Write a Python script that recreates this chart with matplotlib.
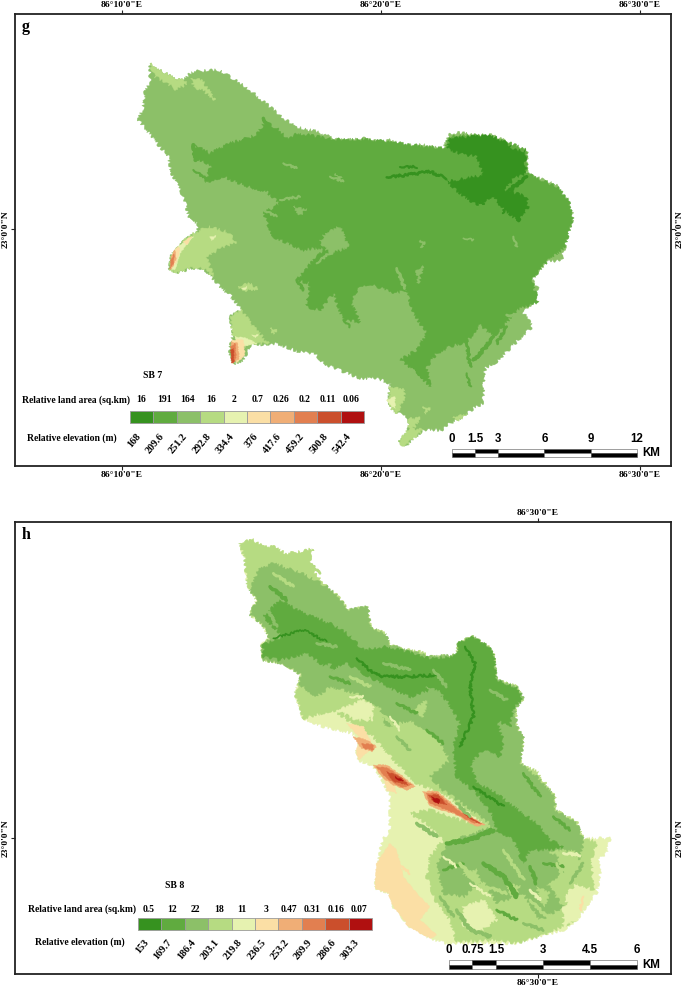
import matplotlib
matplotlib.use("Agg")
import matplotlib.pyplot as plt
from matplotlib.patches import Polygon, Rectangle
from matplotlib.transforms import Affine2D

W, H = 685, 989
SERIF = "Liberation Serif"
SANS = "Liberation Sans"

CLASS_COLORS = ["#36921F", "#60AB3F", "#8CC068", "#B6DB82", "#E6F2B0",
                "#FBDFA5", "#F0AE76", "#E27F50", "#CB4F2C", "#B01010"]

# ---- legend data
G_AREA = ["16", "191", "164", "16", "2", "0.7", "0.26", "0.2", "0.11", "0.06"]
G_ELEV = ["168", "209.6", "251.2", "292.8", "334.4", "376", "417.6", "459.2", "500.8", "542.4"]
H_AREA = ["0.5", "12", "22", "18", "11", "3", "0.47", "0.31", "0.16", "0.07"]
H_ELEV = ["153", "169.7", "186.4", "203.1", "219.8", "236.5", "253.2", "269.9", "286.6", "303.3"]
G_KM = [0, 1.5, 3, 6, 9, 12]
H_KM = [0, 0.75, 1.5, 3, 4.5, 6]
G_KM_LABELS = ["0", "1.5", "3", "6", "9", "12"]
H_KM_LABELS = ["0", "0.75", "1.5", "3", "4.5", "6"]

# ---- zone outlines (traced units: 3 x reference pixel)
G_OUTLINE = [(60,40),(75,55),(105,68),(130,85),(160,92),(185,65),(225,62),(265,60),(300,80),(330,100),(365,125),(395,150),(425,175),(460,205),(500,230),(560,245),(610,265),(650,270),(700,265),(750,275),(780,270),(830,285),(880,285),(940,295),(955,255),(985,248),(1040,255),(1085,255),(1130,275),(1150,300),(1190,300),(1190,370),(1240,390),(1280,405),(1280,435),(1315,450),(1330,505),(1315,545),(1305,590),(1295,630),(1250,635),(1225,665),(1205,690),(1225,715),(1205,725),(1225,755),(1175,780),(1195,810),(1208,830),(1175,860),(1130,905),(1100,935),(1065,955),(1060,1000),(1060,1060),(1030,1075),(1000,1100),(960,1120),(935,1140),(880,1140),(850,1165),(825,1190),(805,1175),(835,1140),(838,1105),(805,1090),(775,1065),(780,1000),(740,985),(690,985),(640,965),(580,940),(555,910),(505,905),(440,880),(405,885),(365,880),(340,930),(310,942),(298,905),(305,870),(310,850),(300,800),(335,780),(300,735),(270,710),(245,680),(220,655),(180,655),(150,668),(118,660),(125,615),(165,570),(200,545),(205,520),(180,510),(160,440),(125,370),(115,320),(85,285),(50,240),(25,210),(40,170),(45,125),(60,90)]

G_ZONES = [
 (3, [(60,40),(75,55),(105,68),(130,85),(160,92),(170,100),(140,120),(105,95),(75,80)]),
 (3, [(185,85),(215,90),(255,150),(225,125),(190,110)]),
 (1, [(195,285),(240,310),(300,280),(380,255),(405,215),(440,235),(470,265),(505,250),(610,268),(700,268),(780,275),(880,290),(945,295),(955,260),(1040,255),(1130,275),(1190,300),(1190,370),(1280,410),(1315,450),(1328,505),(1305,590),(1250,635),(1205,690),(1225,755),(1160,780),(1120,830),(1090,860),(1050,825),(1010,875),(960,890),(920,910),(890,950),(900,1010),(860,965),(810,930),(860,900),(890,850),(850,790),(830,720),(790,730),(720,700),(680,720),(665,760),(690,815),(640,810),(610,730),(570,780),(530,770),(540,700),(500,690),(560,620),(590,590),(520,600),(430,560),(400,490),(450,460),(410,425),(340,405),(280,380),(225,395),(245,345),(200,330)]),
 (2, [(585,550),(630,530),(655,590),(600,612),(570,575)]),
 (2, [(490,470),(530,480),(510,495)]),
 (2, [(615,370),(635,385),(625,393)]),
 (2, [(860,660),(880,650),(865,700)]),
 (2, [(870,570),(885,575),(875,595)]),
 (0, [(958,265),(1040,258),(1085,258),(1130,278),(1150,300),(1186,303),(1186,370),(1150,385),(1125,420),(1190,440),(1195,470),(1165,515),(1115,470),(1090,440),(1040,465),(990,430),(950,395),(1010,385),(1060,375),(1040,320),(990,310),(952,295)]),
 (3, [(118,660),(125,615),(165,570),(200,545),(235,530),(290,545),(320,575),(260,600),(230,625),(250,680),(220,655),(180,655),(150,668)]),
 (3, [(300,800),(335,780),(370,830),(415,880),(365,880),(340,890),(310,860)]),
 (3, [(780,1010),(825,1020),(820,1050),(800,1090),(775,1065)]),
 (3, [(805,1175),(835,1140),(838,1105),(870,1105),(850,1135),(880,1140),(850,1165),(825,1190)]),
 (3, [(325,710),(355,700),(385,715),(350,722)]),
 (3, [(420,835),(440,840),(430,852)]),
 (3, [(880,1070),(900,1075),(885,1090)]),
 (3, [(970,1100),(1010,1095),(985,1110)]),
 (4, [(240,560),(258,558),(245,572)]),
 (4, [(335,715),(350,710),(345,720)]),
 (4, [(365,855),(385,855),(375,862)]),
 (4, [(135,600),(170,570),(190,560),(150,610),(135,660),(120,655)]),
 (4, [(315,860),(350,865),(380,880),(345,888),(325,890)]),
 (4, [(770,1050),(795,1040),(795,1075),(780,1065)]),
 (5, [(128,610),(145,590),(150,600),(138,640),(125,655)]),
 (5, [(305,870),(340,870),(345,915),(320,940)]),
 (5, [(160,575),(185,560),(170,585)]),
 (6, [(123,620),(135,600),(138,625),(125,658)]),
 (6, [(303,875),(322,880),(328,925),(308,940)]),
 (7, [(122,630),(133,612),(130,640),(120,658)]),
 (7, [(302,890),(315,880),(318,925),(306,940)]),
 (8, [(302,900),(310,895),(312,935),(305,940)]),
]
# branching fine-scale patches: class, width, path
G_TENDRILS = [
 (1,3,[(190,285),(198,330)]),(1,2.5,[(400,205),(425,250)]),(1,3,[(345,270),(315,310),(290,370)]),
 (1,2,[(1010,875),(1020,950)]),(1,2.5,[(1090,860),(1060,900),(1030,930)]),(1,2.5,[(840,930),(880,985)]),
 (1,2,[(1130,830),(1100,880)]),(1,1.5,[(640,810),(660,830)]),(1,2,[(500,690),(520,720)]),(1,1.5,[(1010,970),(1020,1010)]),
 (1,1.5,[(190,360),(240,395)]),(1,1.5,[(440,300),(470,380)]),(1,2,[(820,710),(830,670)]),
 (0,1.8,[(770,382),(830,375),(900,365),(950,385)]),(0,1.5,[(810,350),(860,350)]),
 (0,2.5,[(1160,470),(1165,512)]),(0,2.5,[(1190,380),(1140,420)]),(0,2,[(960,270),(1000,300)]),
 (0,1.5,[(1000,420),(1060,465)]),(0,1.5,[(1130,455),(1120,490)]),
 (2,2,[(800,655),(825,715)]),(2,2,[(1130,795),(1165,800)]),(2,1.5,[(450,450),(510,440)]),
 (2,1.5,[(560,640),(610,600)]),(2,1.5,[(400,480),(440,500)]),(2,1.5,[(460,340),(500,355)]),
 (2,1.5,[(600,380),(640,395)]),(2,1.2,[(1000,565),(1030,570)]),(2,1.5,[(1150,560),(1160,590)]),
]

H_OUTLINE = [(30,40),(65,28),(100,50),(130,50),(165,70),(215,65),(250,55),(240,85),(255,130),(290,170),(320,195),(355,240),(415,230),(420,290),(465,310),(480,345),(530,360),(570,365),(600,380),(680,375),(685,340),(725,318),(770,345),(790,370),(800,450),(860,470),(880,505),(855,535),(860,590),(880,625),(870,700),(920,725),(975,800),(975,840),(1040,875),(1060,925),(1140,925),(1130,970),(1105,990),(1110,1030),(1100,1090),(1075,1120),(1040,1170),(1000,1200),(940,1215),(860,1240),(650,1240),(600,1225),(540,1190),(490,1130),(475,1090),(435,1075),(445,1000),(455,935),(480,900),(480,800),(455,745),(430,710),(385,690),(378,660),(395,630),(365,610),(280,590),(220,565),(195,490),(215,435),(160,400),(100,390),(95,345),(120,325),(95,280),(60,255),(80,210),(50,160),(45,90)]

H_ZONES = [
 (3, [(30,40),(65,28),(100,50),(130,50),(165,70),(215,65),(250,55),(240,85),(255,130),(290,170),(320,195),(355,240),(415,230),(420,290),(465,310),(480,345),(530,360),(570,365),(600,380),(680,375),(685,340),(725,318),(770,345),(790,370),(800,450),(860,470),(880,505),(855,535),(860,590),(880,625),(870,700),(920,725),(975,800),(975,840),(1040,875),(1060,925),(1100,935),(1085,985),(1090,1080),(1040,1060),(1000,1100),(1040,1170),(940,1215),(860,1240),(800,1230),(680,1235),(660,1170),(620,1120),(590,1040),(600,980),(640,930),(590,880),(540,850),(600,840),(720,880),(770,885),(640,790),(560,760),(500,700),(430,620),(380,590),(310,540),(220,565),(195,490),(215,435),(160,400),(100,390),(95,345),(120,325),(95,280),(60,255),(80,210),(50,160),(45,90)]),
 (2, [(60,180),(85,120),(130,100),(215,130),(290,170),(320,195),(355,240),(415,230),(420,290),(465,310),(480,345),(530,360),(600,380),(680,375),(685,340),(725,318),(770,345),(790,370),(800,450),(860,470),(880,505),(855,535),(860,590),(880,625),(870,700),(920,740),(975,800),(975,840),(1040,880),(1060,930),(1050,990),(1030,960),(980,975),(1000,1030),(950,1060),(1000,1130),(930,1170),(880,1090),(800,1120),(760,1050),(700,1100),(640,1090),(620,1000),(650,950),(700,920),(790,890),(740,850),(640,780),(600,740),(660,690),(620,620),(540,570),(470,590),(450,530),(380,490),(300,470),(260,500),(205,460),(215,435),(160,400),(100,390),(95,345),(120,325),(95,280),(60,255),(80,210)]),
 (1, [(150,210),(220,250),(300,280),(350,310),(400,360),(470,350),(530,365),(600,385),(680,378),(685,340),(725,320),(770,345),(790,370),(800,450),(860,475),(878,505),(850,535),(840,590),(800,570),(820,630),(810,680),(760,660),(720,700),(740,760),(800,790),(850,830),(920,880),(960,930),(1000,950),(960,960),(900,960),(880,1000),(850,930),(800,900),(790,860),(740,790),(680,740),(670,650),(690,580),(650,510),(600,480),(540,500),(470,470),(400,430),(350,400),(300,420),(230,370),(150,390),(100,380),(100,345),(160,320),(100,260)]),
 (2, [(730,690),(790,670),(810,700),(770,730)]),
 (2, [(540,560),(590,540),(570,590)]),
 (2, [(270,420),(300,400),(310,440)]),
 (2, [(590,470),(640,490),(610,530)]),
 (3, [(920,1070),(960,1090),(940,1130)]),
 (3, [(700,1030),(740,1020),(750,1060)]),
 (3, [(830,1060),(870,1070),(850,1110)]),
 (3, [(960,965),(1010,960),(990,980)]),
 (3, [(550,540),(590,510),(580,560)]),
 (4, [(320,540),(350,530),(400,510),(430,530),(420,570),(380,570)]),
 (4, [(700,1130),(760,1110),(800,1170),(740,1210),(700,1190)]),
 (4, [(1000,1130),(1060,1090),(1075,1120),(1040,1170),(1000,1190)]),
 (5, [(440,1000),(480,940),(500,960),(520,1040),(560,1090),(600,1130),(570,1170),(620,1215),(600,1225),(540,1190),(490,1130),(475,1090),(435,1075)]),
 (5, [(350,580),(400,590),(430,650),(385,690),(378,660),(395,630)]),
 (5, [(460,740),(490,760),(500,790),(470,780)]),
 (6, [(370,620),(410,630),(440,650),(425,665),(395,655)]),
 (6, [(430,705),(470,705),(520,740),(555,770),(530,780),(490,765),(455,740)]),
 (6, [(578,785),(620,783),(690,840),(765,885),(735,888),(680,855),(600,828)]),
 (7, [(395,640),(430,645),(430,660),(400,655)]),
 (7, [(440,710),(475,715),(545,765),(515,772),(470,745)]),
 (7, [(590,790),(620,790),(690,845),(755,882),(730,878),(670,848),(600,820)]),
 (8, [(470,725),(510,740),(535,765),(490,755)]),
 (8, [(595,795),(625,795),(650,825),(610,815)]),
 (8, [(700,850),(750,880),(725,870)]),
 (9, [(495,740),(520,752),(505,752)]),
 (9, [(605,800),(630,810),(625,822),(610,812)]),
]
H_TENDRILS = [
 # darkest streaks
 (0,1.6,[(380,385),(430,430),(460,440),(540,440),(620,435)]),
 (0,1.6,[(705,350),(735,400),(720,460),(730,560),(690,650)]),
 (0,1.6,[(730,770),(820,830)]),
 (0,1.2,[(130,325),(220,300),(290,335)]),
 # mid-green branches in the south and west
 (1,3,[(650,940),(720,930),(790,900)]),(1,3,[(760,1000),(820,1040),(860,1100)]),
 (1,2.5,[(900,1010),(920,1060)]),(1,2,[(640,1020),(700,1000)]),(1,2.5,[(120,170),(170,210)]),
 (1,2,[(800,1140),(860,1170)]),(1,2,[(940,1000),(1000,1010)]),(1,2,[(590,600),(640,640)]),
 (1,2,[(500,520),(560,550)]),(1,2,[(300,440),(360,460)]),(1,2,[(880,730),(930,800)]),
 (1,2,[(970,860),(1020,900)]),
 # class 3 mottling
 (2,2,[(90,200),(140,290)]),(2,2,[(260,340),(320,350)]),(2,2,[(460,400),(540,420)]),
 (2,2,[(610,420),(650,470)]),(2,2,[(780,480),(830,510)]),(2,2,[(720,860),(680,820)]),
 (2,2.5,[(560,880),(620,920)]),(2,2.5,[(680,1140),(720,1200),(780,1220)]),(2,2,[(880,1180),(940,1200)]),
 (2,2,[(1020,1060),(1060,1000)]),(2,2,[(630,1100),(670,1160)]),(2,2,[(500,620),(540,660)]),
 # class 4 mottling
 (3,2,[(130,130),(190,170)]),(3,2,[(360,440),(420,470)]),(3,2,[(450,550),(500,590)]),
 (3,2,[(580,660),(640,700)]),(3,2.5,[(690,1000),(740,1060)]),(3,2,[(820,960),(880,1050)]),
 (3,2,[(900,1110),(960,1170)]),(3,2,[(770,1070),(830,1090)]),(3,2,[(980,1000),(1010,1060)]),
 (3,1.5,[(560,860),(600,860)]),(3,2,[(270,130),(240,100)]),
 # class 5 mottling
 (4,1.5,[(410,520),(430,570)]),(4,1.5,[(360,500),(400,500)]),(4,1.5,[(480,560),(510,600)]),
 (4,1.5,[(720,1060),(780,1100)]),(4,2,[(900,1080),(930,1110)]),(4,2,[(1000,970),(1050,975)]),
 (4,1.5,[(640,980),(680,1010)]),
 # class 6 mottling
 (5,2,[(510,1080),(560,1130)]),(5,2,[(530,1180),(600,1220)]),(5,1.5,[(1060,1100),(1050,1140)]),
 (5,1.5,[(500,1000),(540,1030)]),
]


fig = plt.figure(figsize=(W/100, H/100), dpi=100, facecolor="white")
PX = Affine2D().scale(1/W, -1/H).translate(0, 1) + fig.transFigure
SK_BIG = (1.6, 4, 8)
SK_SMALL = (0.5, 4, 10)


def panel(box, x0, y0, scale, lon0, zoom_off, ticks_lon, labels_lon, ticks_lat, labels_lat):
    l, t, r, b = box
    ax = fig.add_axes([l/W, 1-b/H, (r-l)/W, (b-t)/H])
    lon = lambda px: lon0 + (px-x0)/scale
    lat = lambda py: (y0-py)/scale
    ax.set_xlim(lon(l), lon(r))
    ax.set_ylim(lat(b), lat(t))
    ax.set_xticks(ticks_lon, labels_lon)
    ax.set_yticks(ticks_lat, labels_lat)
    ax.tick_params(axis="both", top=True, right=True, labeltop=True, labelright=True,
                   length=3, width=0.8, pad=0.5, labelsize=6.8, color="#222222")
    plt.setp(ax.get_xticklabels()+ax.get_yticklabels(), family=SERIF, fontweight="bold")
    plt.setp(ax.yaxis.get_ticklabels(), rotation=90, va="center")
    for s in ax.spines.values():
        s.set_linewidth(1.3)
        s.set_color("#222222")
    ox, oy = zoom_off
    conv = lambda pts: [(lon(ox+a/3), lat(oy+c/3)) for a, c in pts]
    return ax, conv


def draw_zone(ax, pts, idx, sk=SK_BIG):
    p = Polygon(pts, closed=True, facecolor=CLASS_COLORS[idx], edgecolor=CLASS_COLORS[idx], linewidth=0.3)
    p.set_sketch_params(*sk)
    ax.add_patch(p)


def draw_tendrils(ax, conv, items):
    for idx, lw, path in items:
        xs, ys = zip(*conv(path))
        l, = ax.plot(xs, ys, color=CLASS_COLORS[idx], lw=lw, solid_capstyle="round", solid_joinstyle="round")
        l.set_sketch_params(1.3, 4, 8)


def legend(title, title_xy, area, elev, area_lab_xy, elev_lab_xy, bar_x0, bar_x1, bar_y0, bar_y1, area_y, elev_y):
    fig.text(*title_xy, title, transform=PX, family=SERIF, fontweight="bold", fontsize=7, ha="center", va="center")
    fig.text(*area_lab_xy, "Relative land area (sq.km)", transform=PX, family=SERIF, fontweight="bold", fontsize=6.9, va="center")
    fig.text(*elev_lab_xy, "Relative elevation (m)", transform=PX, family=SERIF, fontweight="bold", fontsize=6.9, va="center")
    w = (bar_x1-bar_x0)/len(area)
    for i, (a, e) in enumerate(zip(area, elev)):
        x = bar_x0+i*w
        fig.add_artist(Rectangle((x, bar_y0), w, bar_y1-bar_y0, transform=PX, facecolor=CLASS_COLORS[i], edgecolor="#9a9a9a", linewidth=0.6))
        fig.text(x+w/2-1, area_y, a, transform=PX, family=SERIF, fontweight="bold", fontsize=6.9, ha="center", va="center")
        fig.text(x+w/2-6, elev_y, e, transform=PX, family=SERIF, fontweight="bold", fontsize=7.4, ha="right", va="top", rotation=50, rotation_mode="anchor")


def scalebar(kms, labels, x0, x1, y0, y1, lab_y, km_x):
    span = kms[-1]
    to_x = lambda k: x0+(x1-x0)*k/span
    mid = (y0+y1)/2
    for i in range(len(kms)-1):
        a, b = to_x(kms[i]), to_x(kms[i+1])
        top, bot = ("white", "black") if i % 2 == 0 else ("black", "white")
        fig.add_artist(Rectangle((a, y0), b-a, mid-y0, transform=PX, facecolor=top, edgecolor="#555555", linewidth=0.4))
        fig.add_artist(Rectangle((a, mid), b-a, y1-mid, transform=PX, facecolor=bot, edgecolor="#555555", linewidth=0.4))
    for k, s in zip(kms, labels):
        fig.text(to_x(k), lab_y, s, transform=PX, family=SANS, fontweight="bold", fontsize=8.3, ha="center", va="center")
    fig.text(km_x, mid, "KM", transform=PX, family=SANS, fontweight="bold", fontsize=8.3, ha="left", va="center")


# ---------- panel g
LON_G = [10, 20, 30]
LON_G_LAB = ["86°10'0\"E", "86°20'0\"E", "86°30'0\"E"]
LAT_LAB = ["23°0'0\"N"]
ax_g, cg = panel((14.5, 14, 671, 466), 122, 229, 25.9, 10, (130, 50), LON_G, LON_G_LAB, [0], LAT_LAB)
draw_zone(ax_g, cg(G_OUTLINE), 2)
for idx, pts in G_ZONES:
    draw_zone(ax_g, cg(pts), idx, SK_BIG if idx < 4 else SK_SMALL)
draw_tendrils(ax_g, cg, G_TENDRILS)
fig.text(22, 27, "g", transform=PX, family=SERIF, fontweight="bold", fontsize=11.5, va="center")

legend("SB 7", (153, 376), G_AREA, G_ELEV, (22, 400), (27, 438), 130, 364, 411, 423, 400, 432)
scalebar(G_KM, G_KM_LABELS, 452, 637, 449, 457, 439, 642)

# ---------- panel h
ax_h, ch = panel((14.5, 522, 671, 974), 538, 838, 53.6, 30, (230, 530), [30], ["86°30'0\"E"], [0], LAT_LAB)
draw_zone(ax_h, ch(H_OUTLINE), 4)
for idx, pts in H_ZONES:
    draw_zone(ax_h, ch(pts), idx, SK_BIG if idx < 5 else SK_SMALL)
draw_tendrils(ax_h, ch, H_TENDRILS)
fig.text(22, 535, "h", transform=PX, family=SERIF, fontweight="bold", fontsize=11.5, va="center")

legend("SB 8", (175, 885), H_AREA, H_ELEV, (28, 909), (35, 942), 138, 372, 918, 930, 909, 938)
scalebar(H_KM, H_KM_LABELS, 449, 637, 960, 969, 950, 642)

fig.savefig("out.png", dpi=100, facecolor="white")
